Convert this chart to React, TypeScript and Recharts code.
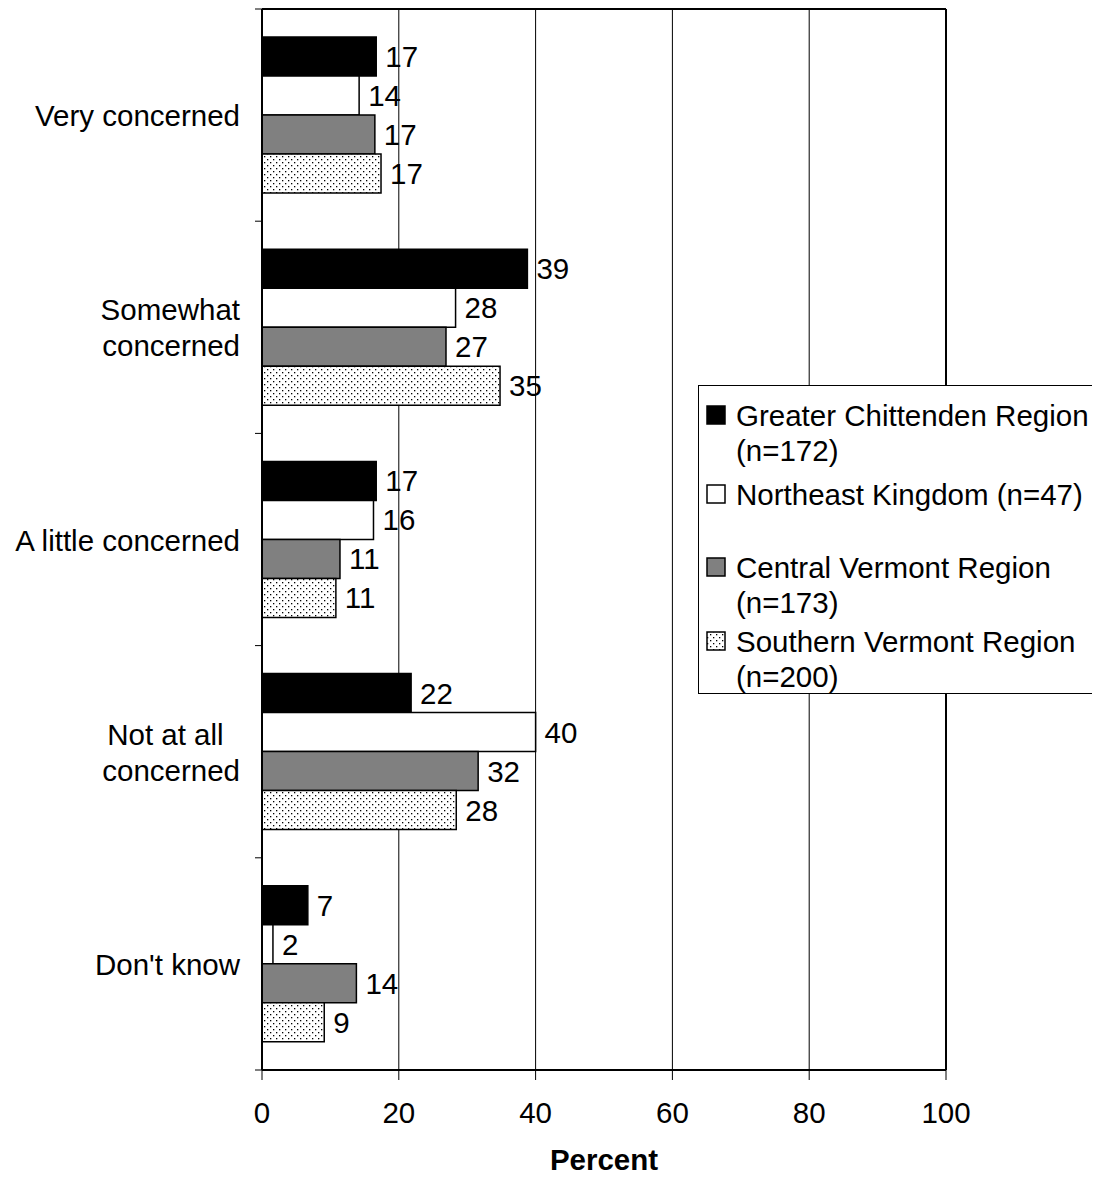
import {
  Bar, BarChart, CartesianGrid, LabelList, ReferenceLine, XAxis, YAxis,
} from "recharts";

const CATEGORIES = ["Very concerned", "Somewhat\nconcerned", "A little concerned", "Not at all\u00a0\u00a0\nconcerned", "Don't know"];
const CHITTENDEN = [16.7, 38.8, 16.7, 21.8, 6.7];
const NORTHEAST = [14.2, 28.3, 16.3, 40.0, 1.6];
const CENTRAL = [16.5, 26.9, 11.4, 31.6, 13.8];
const SOUTHERN = [17.4, 34.8, 10.8, 28.4, 9.1];
const X_TICKS = [0, 20, 40, 60, 80, 100];

const SERIES = [
  { key: "gc", fill: "#000000", lines: ["Greater Chittenden Region", "(n=172)"], gap: 0 },
  { key: "nek", fill: "#ffffff", lines: ["Northeast Kingdom (n=47)", "\u00a0"], gap: 9 },
  { key: "cv", fill: "#808080", lines: ["Central Vermont Region", "(n=173)"], gap: 3 },
  { key: "sv", fill: "url(#dots)", lines: ["Southern Vermont Region", "(n=200)"], gap: 4 },
];

const data = CATEGORIES.map((name, i) => ({
  name,
  gc: CHITTENDEN[i],
  nek: NORTHEAST[i],
  cv: CENTRAL[i],
  sv: SOUTHERN[i],
}));

const FONT = "'Liberation Sans', Arial, sans-serif";
const FS = 29.5;

// category label plus the short tick marks that Excel puts between categories
function CatTick({ x, y, payload, index }: any) {
  const lines = String(payload.value).split("\n");
  const lh = 36;
  const start = y - ((lines.length - 1) * lh) / 2;
  const half = payload.offset || 1062 / CATEGORIES.length / 2;
  const axisX = x;
  return (
    <g>
      <line x1={axisX - 7} x2={axisX} y1={y - half} y2={y - half} stroke="#000" />
      {index === CATEGORIES.length - 1 && (
        <line x1={axisX - 7} x2={axisX} y1={y + half} y2={y + half} stroke="#000" />
      )}
      <text x={232} y={start} textAnchor="end" fontSize={FS} fontFamily={FONT} fill="#000" dominantBaseline="central">
        {lines.map((l, i) => (
          <tspan key={i} x={232} y={start + i * lh} style={{ whiteSpace: "pre" }}>{l}</tspan>
        ))}
      </text>
    </g>
  );
}

function LegendBox() {
  return (
    <div style={{
      position: "absolute", left: 690, top: 377,
      border: "1px solid #000", background: "#fff", width: 420, height: 309,
      boxSizing: "border-box", padding: "12px 0 0 7px", fontFamily: FONT, fontSize: FS,
      lineHeight: "35px", color: "#000",
    }}>
      {SERIES.map((s) => (
        <div key={s.key} style={{ display: "flex", marginTop: s.gap }}>
          <svg width={30} height={35} style={{ flex: "none" }}>
            <rect x={1} y={8} width={18} height={18} fill={s.fill} stroke="#000" strokeWidth={1.5} />
          </svg>
          <div style={{ whiteSpace: "nowrap" }}>
            {s.lines.map((l, i) => <div key={i}>{l}</div>)}
          </div>
        </div>
      ))}
    </div>
  );
}

export default function App() {
  return (
    <div style={{ width: 1092, height: 1170, position: "relative", overflow: "hidden", background: "#fff" }}>
      <BarChart
        width={1092}
        height={1170}
        data={data}
        layout="vertical"
        margin={{ top: 0, right: 154, bottom: 0, left: 0 }}
        barSize={39}
        barGap={0}
      >
        <defs>
          <pattern id="dots" width="6" height="6" patternUnits="userSpaceOnUse">
            <rect width="6" height="6" fill="#fff" />
            <rect x="1" y="1" width="1.3" height="1.3" fill="#000" />
            <rect x="4" y="4" width="1.3" height="1.3" fill="#000" />
          </pattern>
        </defs>
        <CartesianGrid horizontal={false} stroke="#000" strokeWidth={1} />
        <XAxis
          type="number"
          domain={[0, 100]}
          ticks={X_TICKS}
          interval={0}
          tickSize={10}
          tickMargin={22}
          height={108}
          axisLine={{ stroke: "#000", strokeWidth: 2 }}
          tickLine={{ stroke: "#000" }}
          tick={{ fontSize: FS, fontFamily: FONT, fill: "#000" }}
          label={{ value: "Percent", position: "insideBottom", offset: 8, fontSize: FS, fontWeight: "bold", fontFamily: FONT, fill: "#000" }}
        />
        <XAxis xAxisId="top" orientation="top" type="number" domain={[0, 100]} allowDataOverflow height={1} tick={false} tickLine={false} axisLine={{ stroke: "#000", strokeWidth: 2 }} />
        <YAxis type="category" dataKey="name" width={254} tickSize={0} tickMargin={0} tickLine={false} axisLine={{ stroke: "#000", strokeWidth: 2 }} tick={<CatTick />} interval={0} />
        <ReferenceLine x={100} stroke="#000" strokeWidth={2} />
        {SERIES.map((s) => (
          <Bar key={s.key} dataKey={s.key} fill={s.fill} stroke="#000" strokeWidth={1.5} isAnimationActive={false}>
            <LabelList dataKey={s.key} position="right" offset={9} formatter={(v: any) => Math.round(Number(v))} fontSize={FS} fontFamily={FONT} fill="#000" />
          </Bar>
        ))}
      </BarChart>
      <LegendBox />
    </div>
  );
}
